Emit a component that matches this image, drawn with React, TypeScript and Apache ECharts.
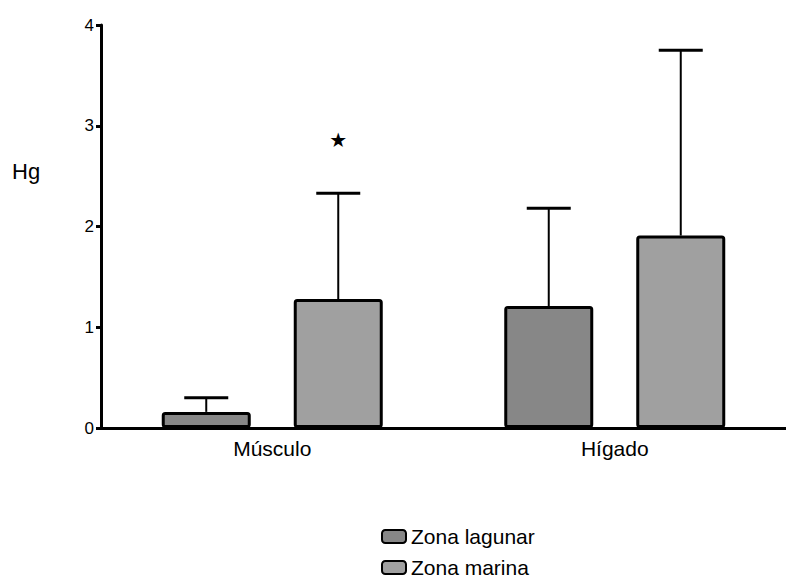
import React, { useEffect, useRef } from "react";
import * as echarts from "echarts";

const categories = ["Músculo", "Hígado"];
const lagunarMean = [0.16, 1.21];
const lagunarSD = [0.14, 0.97];
const marinaMean = [1.28, 1.91];
const marinaSD = [1.05, 1.84];
const starPoints = [[0, 2.86]]; // category index, value (over Zona marina)
const yTicks = [0, 1, 2, 3, 4];
const seriesNames = ["Zona lagunar", "Zona marina"];

const BAR_W = 89;
const GAP = 43;
const FONT = "Liberation Sans, Arial, sans-serif";

function errorSeries(name: string, means: number[], sds: number[], offset: number) {
  return {
    type: "custom",
    name: name + "-err",
    silent: true,
    clip: false,
    z: 1,
    data: means.map((m, i) => [i, m, sds[i]]),
    renderItem: (params: any, api: any) => {
      const i = api.value(0);
      const m = api.value(1);
      const s = api.value(2);
      const base = api.coord([i, m]);
      const top = api.coord([i, m + s]);
      const x = base[0] + offset;
      return {
        type: "group",
        children: [
          {
            type: "line",
            shape: { x1: x, y1: base[1], x2: x, y2: top[1] },
            style: { stroke: "#000", lineWidth: 2 },
          },
          {
            type: "line",
            shape: { x1: x - 22, y1: top[1], x2: x + 22, y2: top[1] },
            style: { stroke: "#000", lineWidth: 3 },
          },
        ],
      };
    },
  };
}

export default function App() {
  const ref = useRef<HTMLDivElement>(null);
  useEffect(() => {
    if (!ref.current) return;
    const chart = echarts.init(ref.current, null, { renderer: "svg" });
    const off = (BAR_W + GAP) / 2;
    const legendCommon = {
      orient: "vertical",
      left: 381,
      padding: 0,
      itemWidth: 24,
      itemHeight: 13,
      itemGap: 0,
      textStyle: { fontSize: 21, color: "#000", fontFamily: FONT, lineHeight: 21 },
    };
    chart.setOption({
      animation: false,
      textStyle: { fontFamily: FONT },
      grid: { left: 101, top: 25, width: 692, height: 403 },
      legend: [
        { ...legendCommon, top: 526, data: [seriesNames[0]] },
        { ...legendCommon, top: 557, data: [seriesNames[1]] },
      ],
      xAxis: {
        type: "category",
        data: categories,
        axisLine: { lineStyle: { color: "#000", width: 3 } },
        axisTick: { alignWithLabel: true, length: 6, lineStyle: { color: "#000", width: 3 } },
        axisLabel: { fontSize: 21, color: "#000", margin: 10 },
      },
      yAxis: {
        type: "value",
        min: yTicks[0],
        max: yTicks[yTicks.length - 1],
        interval: 1,
        splitLine: { show: false },
        axisLine: { show: true, lineStyle: { color: "#000", width: 3 } },
        axisTick: { show: true, length: 5, lineStyle: { color: "#000", width: 3 } },
        axisLabel: { fontSize: 17, color: "#000", margin: 7 },
      },
      graphic: [
        {
          type: "text",
          left: 12,
          top: 160,
          style: { text: "Hg", fontSize: 22, fill: "#000", fontFamily: FONT },
        },
      ],
      series: [
        {
          type: "bar",
          name: seriesNames[0],
          data: lagunarMean,
          barWidth: BAR_W,
          barGap: (GAP / BAR_W) * 100 + "%",
          z: 2,
          itemStyle: { color: "#878787", borderColor: "#000", borderWidth: 3, borderRadius: 2 },
        },
        {
          type: "bar",
          name: seriesNames[1],
          data: marinaMean,
          barWidth: BAR_W,
          z: 2,
          itemStyle: { color: "#a0a0a0", borderColor: "#000", borderWidth: 3, borderRadius: 2 },
        },
        errorSeries(seriesNames[0], lagunarMean, lagunarSD, -off),
        errorSeries(seriesNames[1], marinaMean, marinaSD, off),
        {
          type: "custom",
          name: "star",
          silent: true,
          clip: false,
          data: starPoints,
          renderItem: (params: any, api: any) => {
            const p = api.coord([api.value(0), api.value(1)]);
            return {
              type: "text",
              x: p[0] + off,
              y: p[1],
              style: {
                text: "★",
                fontSize: 20,
                fill: "#000",
                align: "center",
                verticalAlign: "middle",
                fontFamily: "DejaVu Sans",
              },
            };
          },
        },
      ],
    });
    return () => chart.dispose();
  }, []);
  return <div ref={ref} style={{ width: 786, height: 579, position: "absolute", left: 0, top: 0 }} />;
}
